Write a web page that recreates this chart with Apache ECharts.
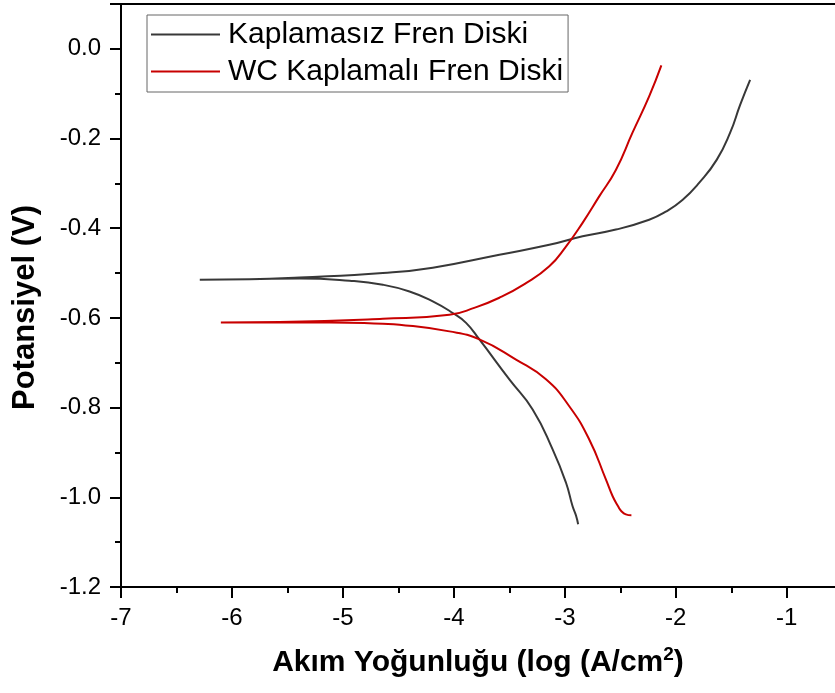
<!DOCTYPE html>
<html>
<head>
<meta charset="utf-8">
<script src="https://cdn.jsdelivr.net/npm/echarts@6/dist/echarts.min.js"></script>
<style>
  html, body { margin: 0; padding: 0; background: #fff; }
  #chart { width: 835px; height: 693px; }
</style>
</head>
<body>
<div id="chart"></div>
<script>
// Tafel eğrileri — log(i) vs E
const seriesNames = ['Kaplamasız Fren Diski', 'WC Kaplamalı Fren Diski'];

// kaplamasız: katodik uçtan başlayıp Ecorr'a, oradan anodik uca
const bareX = [-2.88, -2.90, -2.93, -2.99, -3.11, -3.29, -3.50, -3.77, -3.89, -4.01, -4.19, -4.40, -4.64, -4.94, -5.39, -5.84, -6.29,
  -5.84, -5.39, -4.64, -4.19, -3.59, -3.14, -2.84, -2.54, -2.24, -2.09, -1.94, -1.79, -1.63, -1.51, -1.42, -1.33];
const bareY = [-1.060, -1.040, -1.020, -0.967, -0.893, -0.804, -0.737, -0.648, -0.611, -0.589, -0.563, -0.541, -0.526, -0.517, -0.512, -0.514, -0.515,
  -0.514, -0.510, -0.500, -0.488, -0.459, -0.437, -0.418, -0.403, -0.381, -0.363, -0.337, -0.299, -0.247, -0.187, -0.125, -0.069];

// WC kaplamalı
const wcX = [-2.40, -2.45, -2.49, -2.52, -2.57, -2.63, -2.78, -2.96, -3.17, -3.44, -3.77, -4.04, -4.49, -4.64, -5.12, -5.57, -6.10,
  -5.57, -4.64, -4.04, -3.81, -3.59, -3.36, -3.14, -2.99, -2.84, -2.69, -2.54, -2.39, -2.24, -2.13];
const wcY = [-1.040, -1.038, -1.031, -1.020, -0.997, -0.960, -0.871, -0.797, -0.737, -0.693, -0.648, -0.630, -0.615, -0.613, -0.610, -0.610, -0.610,
  -0.609, -0.602, -0.593, -0.577, -0.555, -0.524, -0.485, -0.441, -0.388, -0.329, -0.270, -0.187, -0.106, -0.037];

const xTicks = [-7, -6, -5, -4, -3, -2, -1];
const xMin = -7, xMax = -0.565, xStep = 1;
const yMin = -1.2, yMax = 0.1, yStep = 0.2;

const colors = ['#383838', '#c80000'];
const font = 'Liberation Sans, Arial, sans-serif';

const pairs = (xs, ys) => xs.map((x, i) => [x, ys[i]]);

const chart = echarts.init(document.getElementById('chart'));

chart.setOption({
  backgroundColor: '#fff',
  animation: false,
  grid: { left: 121, right: 0, top: 4, bottom: 106 },
  legend: {
    orient: 'vertical',
    left: 147,
    top: 15,
    padding: [4, 5, 5, 4],
    borderColor: '#666',
    borderWidth: 1,
    icon: 'rect',
    itemWidth: 69,
    itemHeight: 2,
    itemGap: 6,
    textStyle: { fontFamily: font, fontSize: 30, color: '#000', lineHeight: 31, padding: [0, 0, 0, 3] },
    data: seriesNames
  },
  xAxis: [{
    type: 'value',
    min: xMin,
    max: xMax,
    interval: xStep,
    name: 'Akım Yoğunluğu (log (A/cm{sup|2})',
    nameLocation: 'middle',
    nameGap: 58,
    nameTextStyle: {
      fontFamily: font, fontSize: 30, fontWeight: 'bold', color: '#000',
      rich: { sup: { fontFamily: font, fontSize: 19, fontWeight: 'bold', color: '#000', padding: [0, 0, 17, 0] } }
    },
    axisLine: { onZero: false, lineStyle: { color: '#000', width: 2 } },
    axisTick: { length: 11, customValues: xTicks, lineStyle: { color: '#000', width: 2 } },
    minorTick: { show: true, splitNumber: 2, length: 6, lineStyle: { color: '#000', width: 2 } },
    axisLabel: { fontFamily: font, fontSize: 24, color: '#000', margin: 19, showMaxLabel: false },
    splitLine: { show: false }
  }, {
    type: 'value',
    position: 'top',
    min: xMin,
    max: xMax,
    axisLine: { show: true, onZero: false, lineStyle: { color: '#000', width: 2 } },
    axisTick: { show: false },
    minorTick: { show: false },
    axisLabel: { show: false },
    splitLine: { show: false }
  }],
  yAxis: {
    type: 'value',
    min: yMin,
    max: yMax,
    interval: yStep,
    name: 'Potansiyel (V)',
    nameLocation: 'middle',
    nameGap: 80,
    nameTextStyle: { fontFamily: font, fontSize: 31, fontWeight: 'bold', color: '#000', padding: [0, 24, 0, 0] },
    axisLine: { show: true, onZero: false, lineStyle: { color: '#000', width: 2 } },
    axisTick: { length: 11, lineStyle: { color: '#000', width: 2 } },
    minorTick: { show: true, splitNumber: 2, length: 6, lineStyle: { color: '#000', width: 2 } },
    axisLabel: {
      fontFamily: font, fontSize: 24, color: '#000', margin: 20, showMaxLabel: false,
      formatter: (v) => (Math.abs(v) < 1e-9 ? 0 : v).toFixed(1)
    },
    splitLine: { show: false }
  },
  series: [
    {
      name: seriesNames[0],
      type: 'line',
      data: pairs(bareX, bareY),
      symbol: 'none',
      smooth: 0.5,
      lineStyle: { color: colors[0], width: 2 },
      itemStyle: { color: colors[0] }
    },
    {
      name: seriesNames[1],
      type: 'line',
      data: pairs(wcX, wcY),
      symbol: 'none',
      smooth: 0.5,
      lineStyle: { color: colors[1], width: 2 },
      itemStyle: { color: colors[1] }
    }
  ]
});
</script>
</body>
</html>
